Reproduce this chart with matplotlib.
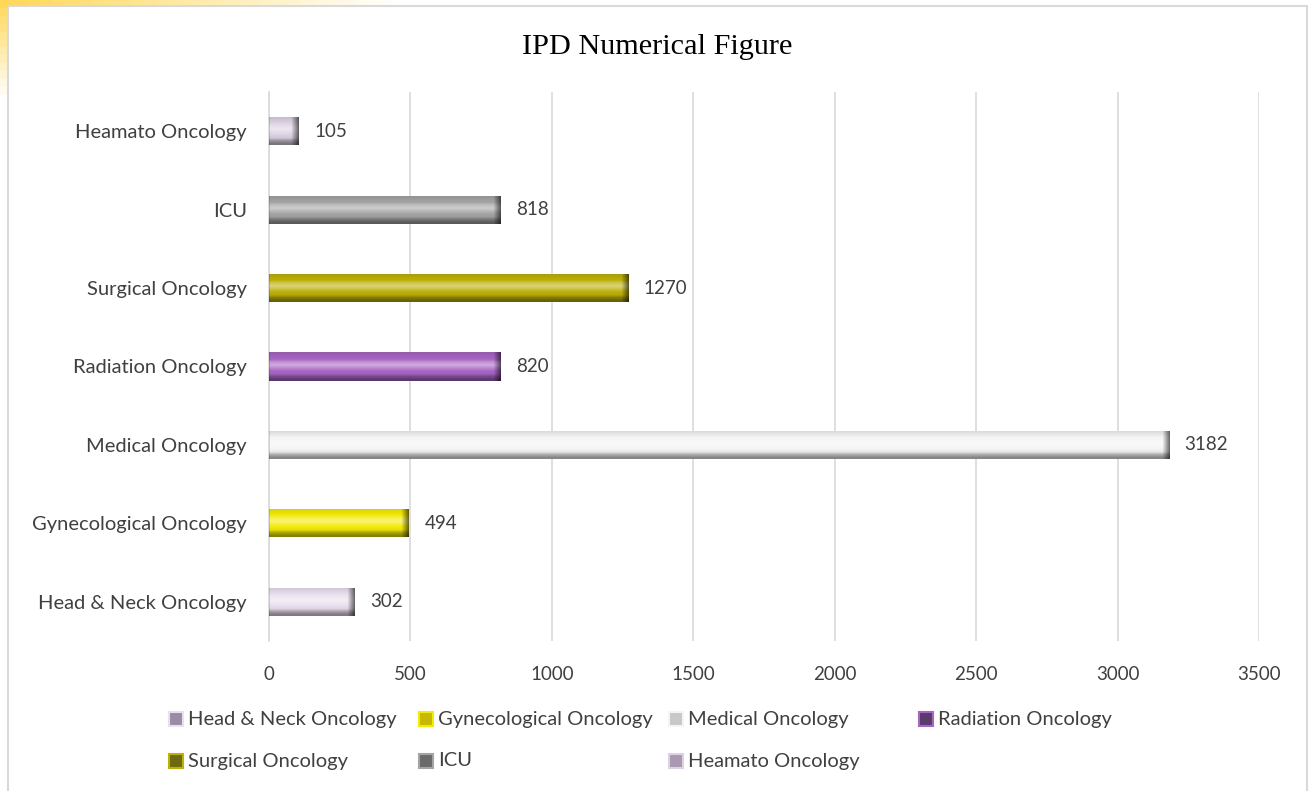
import matplotlib
matplotlib.use('Agg')
import matplotlib.pyplot as plt
import matplotlib.patches as mpatches
import matplotlib.colors as mcolors
import numpy as np

categories = ["Head & Neck Oncology", "Gynecological Oncology", "Medical Oncology",
              "Radiation Oncology", "Surgical Oncology", "ICU", "Heamato Oncology"]
values = [302, 494, 3182, 820, 1270, 818, 105]
colors = ["#eadfee", "#f3ea08", "#f4f4f4", "#a866c4", "#bdb00a", "#a4a4a4", "#ddd2e4"]
legend_colors = ["#9a8ca4", "#c8b800", "#c8c8c8", "#5a3a6a", "#6e6a10", "#6a6a6a", "#a898b0"]

plt.rcParams['font.family'] = ['Lato', 'DejaVu Sans']
W, H = 1310, 791

fig = plt.figure(figsize=(W / 100, H / 100), dpi=100)

# warm corner behind chart border
bg = fig.add_axes([0, 0, 1, 1], zorder=-5)
grad = np.zeros((100, 100, 4))
yy, xx = np.mgrid[0:100, 0:100]
a = np.clip(1 - np.sqrt((xx / 30.0) ** 2 + (yy / 12.0) ** 2), 0, 1)
grad[..., 0] = 1.0
grad[..., 1] = 0.85
grad[..., 2] = 0.35
grad[..., 3] = a
bg.imshow(grad, extent=[0, 1, 0, 1], aspect='auto', origin='upper')
bg.set_xlim(0, 1)
bg.set_ylim(0, 1)
bg.axis('off')

fig.patches.append(mpatches.Rectangle((8 / W, -0.01), 1299 / W, 1 - 6 / H + 0.01,
                                      transform=fig.transFigure, facecolor='white',
                                      edgecolor='#d9d9d9', lw=1.5, zorder=-4))

ax = fig.add_axes([269 / W, 1 - 641 / H, 990 / W, 549 / H])
ax.set_facecolor('none')
y = np.arange(len(categories))
bars = ax.barh(y, values, height=0.36, color=colors, linewidth=0, zorder=3)

# bevel look: vertical shading + darker right end
prof = np.array([0.55, 0.7, 0.95, 1.0, 1.15, 1.3, 1.2, 1.0, 0.95, 0.9])
for bar, c in zip(bars, colors):
    x0, y0, w, hh = bar.get_x(), bar.get_y(), bar.get_width(), bar.get_height()
    base = np.array(mcolors.to_rgb(c))
    nx = max(int(w / 3500 * 990), 4)
    ny = len(prof)
    img = np.zeros((ny, nx, 3))
    for i, f in enumerate(prof):
        if f <= 1:
            col = base * f
        else:
            col = base + (1 - base) * (f - 1) * 1.5
        img[i, :, :] = np.clip(col, 0, 1)
    endw = min(7, nx // 3)
    for j in range(endw):
        img[:, nx - 1 - j, :] *= 0.45 + 0.55 * j / endw
    img[:, 0, :] *= 0.85
    im = ax.imshow(img, extent=[x0, x0 + w, y0, y0 + hh], aspect='auto', origin='lower',
                   interpolation='bilinear', zorder=4)
    im.set_clip_path(bar)

for yi, v in zip(y, values):
    ax.text(v + 55, yi, str(v), va='center', ha='left', fontsize=13.5, color='#404040')

ax.set_xlim(0, 3500)
ax.set_ylim(-0.5, len(categories) - 0.5)
ax.set_xticks(np.arange(0, 3501, 500))
ax.set_yticks(y)
ax.set_yticklabels(categories)
ax.tick_params(axis='both', length=0, colors='#404040')
ax.tick_params(axis='x', pad=18, labelsize=13.5)
ax.tick_params(axis='y', pad=16, labelsize=14.5)
ax.grid(axis='x', color='#d9d9d9', lw=1.2, zorder=0)
ax.set_axisbelow(True)
for s in ['top', 'right', 'bottom']:
    ax.spines[s].set_visible(False)
ax.spines['left'].set_color('#d9d9d9')
ax.spines['left'].set_linewidth(1.2)

fig.text(0.502, 1 - 47 / H, "IPD Numerical Figure", ha='center', va='center',
         fontsize=21.8, family='Liberation Serif', color='black')

# legend laid out like the source: 4 equal-width columns
for i, (name, c, lc) in enumerate(zip(categories, colors, legend_colors)):
    r, k = divmod(i, 4)
    lx = 169 + 250 * k
    ly = 719 + 42 * r
    fig.add_artist(mpatches.Rectangle((lx / W, 1 - (ly + 7) / H), 14 / W, 14 / H,
                                      transform=fig.transFigure, facecolor=lc,
                                      edgecolor=c, lw=1.5))
    fig.text((lx + 19) / W, 1 - ly / H, name, ha='left', va='center', fontsize=14.5,
             color='#404040')

fig.savefig('out.png', dpi=100)
